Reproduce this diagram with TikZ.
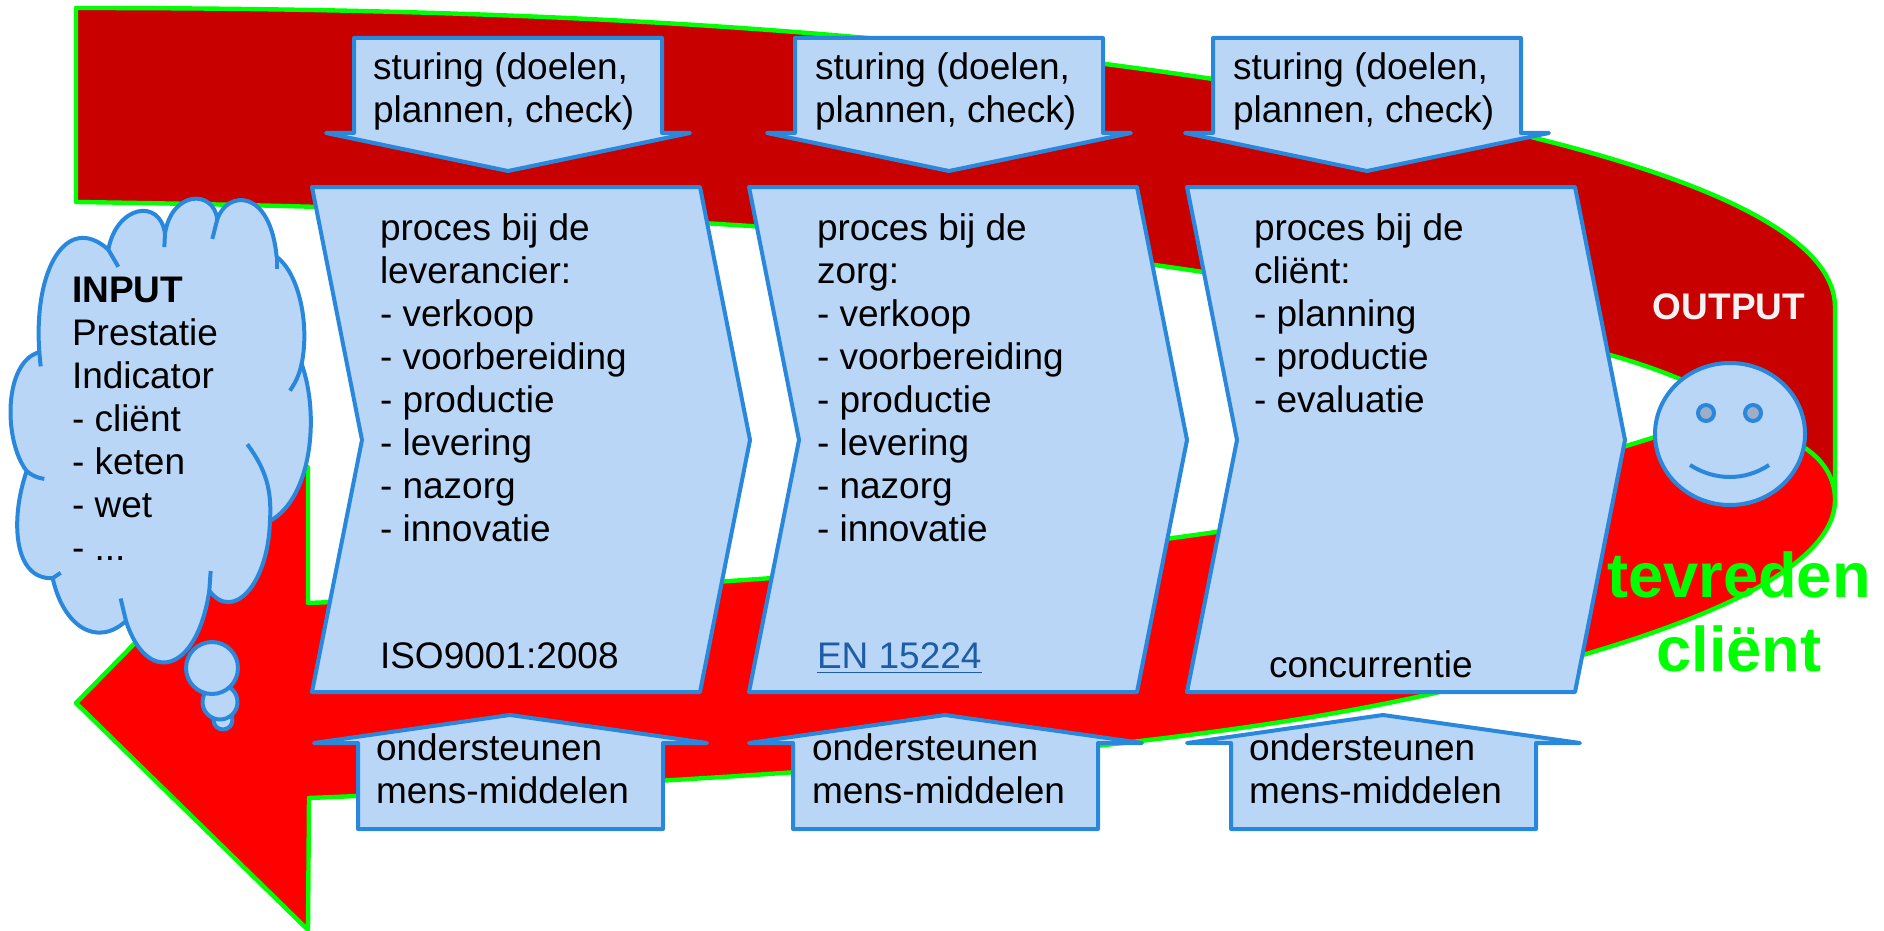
\documentclass[tikz,border=0pt]{standalone}
\usepackage{fontspec}
\setmainfont{Liberation Sans}
\definecolor{boxfill}{HTML}{B9D6F7}
\definecolor{boxline}{HTML}{2A88DC}
\definecolor{darkband}{HTML}{C80000}
\definecolor{brightband}{HTML}{FF0000}
\definecolor{limeedge}{HTML}{00FF00}
\definecolor{eyefill}{HTML}{9CAEC8}
\definecolor{linkblue}{HTML}{1F5CA6}
\tikzset{
  band/.style={draw=limeedge,line width=2.2pt,line join=round},
  shapebox/.style={draw=boxline,fill=boxfill,line width=2pt,line join=round},
  thinline/.style={draw=boxline,line width=2pt,line cap=butt},
  txt/.style={inner sep=0pt,outer sep=0pt,align=left,anchor=north west,font=\fontsize{18.5}{21.5}\selectfont}
}
\newcommand{\chevronbox}[1]{%
  \draw[shapebox] (#1,187) -- ++(388,0) -- ++(50,253) -- ++(-50,252) -- ++(-388,0) -- ++(50,-252) -- cycle;}
\newcommand{\downbox}[1]{%
  \draw[shapebox] (#1,38) -- ++(308,0) -- ++(0,95) -- ++(28,0) -- ++(-182,38) -- ++(-182,-38) -- ++(28,0) -- cycle;}
\newcommand{\upbox}[1]{%
  \draw[shapebox] (#1,829) -- ++(305,0) -- ++(0,-86) -- ++(44,0) -- ++(-197,-28) -- ++(-196,28) -- ++(44,0) -- cycle;}
\begin{document}
\begin{tikzpicture}[x=0.5pt,y=-0.5pt]
\useasboundingbox (0,0) rectangle (1884,931);
% dark band
\path[band,fill=darkband] (76,8) .. controls (500,8) and (850,25) .. (1213,79)
  .. controls (1480,115) and (1835,190) .. (1835,307)
  -- (1835,495)
  .. controls (1800,430) and (1700,380) .. (1610,355)
  .. controls (1480,320) and (1340,298) .. (1203,272)
  .. controls (900,226) and (500,208) .. (76,202) -- cycle;
% bright arrow
\path[band,fill=brightband] (76,703) -- (308,467) -- (308,603)
  .. controls (800,583) and (1300,550) .. (1655,437)
  .. controls (1720,410) and (1835,430) .. (1835,500)
  .. controls (1835,590) and (1600,655) .. (1435,693)
  .. controls (1250,735) and (950,772) .. (309,798)
  -- (308,930) -- cycle;
% cloud
\begin{scope}[x=0.5pt/3,y=-0.5pt/2.8,yshift=-90pt]
\path[shapebox]
 (325,195) .. controls (350,70) and (480,50) .. (495,150)
 .. controls (515,30) and (640,25) .. (652,110)
 .. controls (680,30) and (810,20) .. (830,215)
 .. controls (895,260) and (930,400) .. (905,515)
 .. controls (960,660) and (935,890) .. (810,955)
 .. controls (805,1130) and (700,1240) .. (628,1150)
 .. controls (590,1385) and (440,1415) .. (378,1235)
 .. controls (290,1310) and (190,1250) .. (158,1115)
 .. controls (40,1120) and (30,950) .. (80,815)
 .. controls (10,730) and (10,510) .. (118,482)
 .. controls (100,250) and (200,90) .. (325,195)
 -- cycle;
\draw[thinline] (325,195) -- (355,243);
\draw[thinline] (495,150) -- (493,188);
\draw[thinline] (652,110) -- (637,165);
\draw[thinline] (830,215) -- (830,248);
\draw[thinline] (905,515) to[bend left=10] (870,590);
\draw[thinline] (810,955) to[bend right=20] (742,740);
\draw[thinline] (628,1150) -- (632,1095);
\draw[thinline] (378,1235) -- (362,1172);
\draw[thinline] (158,1115) -- (182,1100);
\draw[thinline] (80,815) to[bend right=15] (133,837);
\draw[thinline] (118,482) -- (122,522);
\end{scope}
% bubbles
\draw[shapebox] (223,720) circle[radius=9.5];
\draw[shapebox] (220,702) circle[radius=17.5];
\draw[shapebox] (212,668) circle[radius=26];
% boxes
\chevronbox{312}\chevronbox{749}\chevronbox{1187}
\downbox{354}\downbox{795}\downbox{1213}
\upbox{358}\upbox{793}\upbox{1231}
% face
\draw[shapebox] (1730,434) ellipse[x radius=75,y radius=71];
\draw[shapebox,fill=eyefill] (1706,413) circle[radius=8];
\draw[shapebox,fill=eyefill] (1753,413) circle[radius=8];
\draw[thinline] (1690,465) .. controls (1715,481) and (1745,481) .. (1769,465);
% texts
\node[txt] (input) at (72,277) {\textbf{INPUT}\\Prestatie\\Indicator\\- cliënt\\- keten\\- wet\\- ...};
\node[txt] (p1) at (380,214) {proces bij de\\leverancier:\\- verkoop\\- voorbereiding\\- productie\\- levering\\- nazorg\\- innovatie};
\node[txt] (p2) at (817,214) {proces bij de\\zorg:\\- verkoop\\- voorbereiding\\- productie\\- levering\\- nazorg\\- innovatie};
\node[txt] (p3) at (1254,214) {proces bij de\\cliënt:\\- planning\\- productie\\- evaluatie};
\node[txt] (iso) at (380,643) {ISO9001:2008};
\node[txt,text=linkblue] (en) at (817,643) {\underline{EN 15224}};
\node[txt] (con) at (1269,651) {concurrentie};
\foreach \i/\x in {1/373,2/815,3/1233}
  \node[txt] (s\i) at (\x,53) {sturing (doelen,\\plannen, check)};
\foreach \i/\x in {1/376,2/812,3/1249}
  \node[txt] (o\i) at (\x,734) {ondersteunen\\mens-middelen};
\node[txt,font=\fontsize{18.5}{21.5}\selectfont\bfseries,text=white!95!black,anchor=center] (out) at (1729,307) {OUTPUT};
\node[inner sep=0pt,align=center,anchor=center,font=\fontsize{31.6}{37}\selectfont\bfseries,text=limeedge] (tev) at (1739,612) {tevreden\\cliënt};
\end{tikzpicture}
\end{document}
